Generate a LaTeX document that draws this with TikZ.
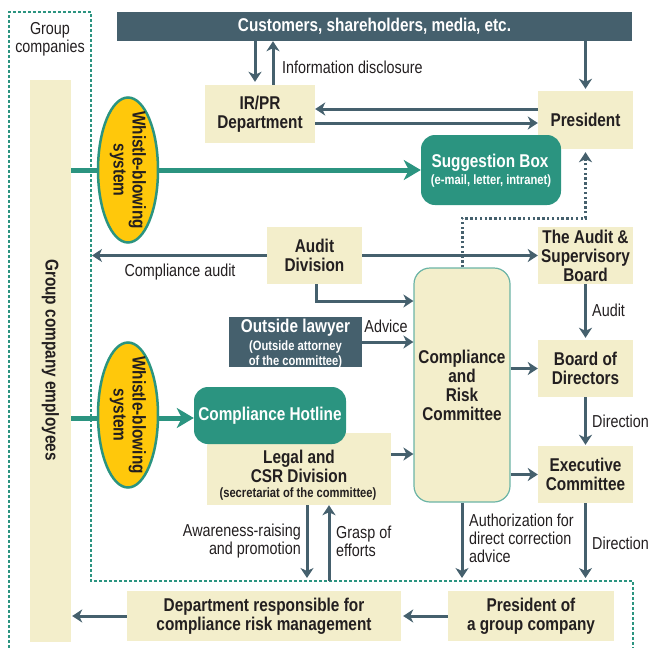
\documentclass[tikz,border=0pt]{standalone}
\usepackage{fontspec}
\setmainfont{Liberation Sans}[FakeStretch=0.83]
\usetikzlibrary{arrows.meta,shapes.geometric}
\definecolor{cSlate}{HTML}{45606D}
\definecolor{cCream}{HTML}{F3EECB}
\definecolor{cTeal}{HTML}{2B9480}
\definecolor{cYel}{HTML}{FFC80B}
\definecolor{cTxt}{HTML}{231F20}
\newcommand\fntB{\fontsize{18.5}{19}\selectfont\bfseries}
\newcommand\fntR{\fontsize{17.3}{18}\selectfont}
\newcommand\fntS{\fontsize{13.5}{15}\selectfont\bfseries}
\begin{document}
\begin{tikzpicture}[x=1pt,y=-1pt,
  box/.style={fill=cCream, text=cTxt, font=\fntB, align=center, inner sep=0pt},
  darkbox/.style={fill=cSlate, text=white, font=\fntB, align=center, inner sep=0pt},
  tbox/.style={fill=cTeal, text=white, font=\fntB, align=center, inner sep=0pt, rounded corners=14pt},
  wtxt/.style={text=white, font=\fntB, align=center, inner sep=0pt},
  btxt/.style={text=cTxt, font=\fntB, align=center, inner sep=0pt},
  lab/.style={text=cTxt, font=\fntR, inner sep=0pt},
  wbell/.style={ellipse, fill=cYel, draw=cTeal, line width=2.5pt, minimum width=60pt, minimum height=145pt, inner sep=0pt},
  wbtxt/.style={text=cTxt, font=\fntB, align=center, inner sep=0pt, rotate=-90},
  arr/.style={draw=cSlate, line width=3pt, -{Stealth[length=10pt,width=13pt,inset=3pt]}},
  tarr/.style={draw=cTeal, line width=5pt, -{Stealth[length=17pt,width=20pt,inset=5pt]}},
  darr/.style={draw=cSlate, line width=3pt, dash pattern=on 2.4pt off 2.4pt, -{Stealth[length=10pt,width=13pt,inset=3pt]}},
  gline/.style={draw=cTeal, line width=1.1pt, dash pattern=on 3pt off 2pt}
]
\useasboundingbox (0,0) rectangle (651,648);

% group companies outline
\draw[gline] (9,648) -- (9,12) -- (91,12) -- (91,581) -- (633,581) -- (633,648);
\node[lab, align=center] (gc) at (50,39) {Group\\companies};

% boxes
\node[darkbox, minimum width=515pt, minimum height=29pt] (cust) at (374.5,26.5) {Customers, shareholders, media, etc.};
\node[box, minimum width=110pt, minimum height=58pt] (irpr) at (260,114) {IR/PR\\Department};
\node[box, minimum width=95pt, minimum height=58pt] (pres) at (585.5,120) {President};
\node[tbox, minimum width=140pt, minimum height=70pt] (sugg) at (491,170) {};
\node[wtxt] (suggt1) at (490,163) {Suggestion Box};
\node[wtxt, font=\fntS] (suggt2) at (491,181) {(e-mail, letter, intranet)};
\node[box, minimum width=41pt, minimum height=562pt] (emp) at (50.5,361) {};
\node[wbtxt] (empt) at (50.5,360) {Group company employees};
\node[box, minimum width=95pt, minimum height=57pt] (audit) at (314.5,255.5) {Audit\\Division};
\node[box, minimum width=95pt, minimum height=57pt] (asb) at (585.5,255.5) {The Audit \&\\Supervisory\\Board};
\node[box, minimum width=95pt, minimum height=57pt] (bod) at (585.5,368.5) {Board of\\Directors};
\node[box, minimum width=95pt, minimum height=57pt] (exec) at (585.5,474.5) {Executive\\Committee};
\node[box, draw=cTeal!70, line width=1.2pt, rounded corners=16pt, minimum width=96pt, minimum height=234pt] (crc) at (462,385) {Compliance\\and\\Risk\\Committee};
\node[darkbox, minimum width=133pt, minimum height=50pt] (law) at (295.5,342) {};
\node[wtxt] (lawt1) at (295.5,328) {Outside lawyer};
\node[wtxt, font=\fntS] (lawt2) at (295.5,355) {(Outside attorney\\of the committee)};
\node[box, minimum width=184pt, minimum height=72pt] (legal) at (299,469) {};
\node[tbox, minimum width=152pt, minimum height=57pt] (hot) at (270,415.5) {Compliance Hotline};
\node[btxt] (legalt1) at (299,466.5) {Legal and\\CSR Division};
\node[btxt, font=\fntS] (legalt2) at (298,494) {(secretariat of the committee)};
\node[box, minimum width=274pt, minimum height=50pt] (dept) at (264,616) {Department responsible for\\compliance risk management};
\node[box, minimum width=166pt, minimum height=50pt] (pgc) at (531,616) {President of\\a group company};

% teal whistle-blowing lines
\draw[tarr] (emp.east |- sugg.west) -- (sugg.west);
\draw[tarr] ([yshift=-2.5pt]emp.east |- hot.west) -- ([yshift=-2.5pt]hot.west);
\node[wbell] (wb1) at (128,170) {};
\node[wbtxt] (wb1t) at (128,170) {Whistle-blowing\\system};
\node[wbell] (wb2) at (128,415) {};
\node[wbtxt] (wb2t) at (128,415) {Whistle-blowing\\system};

% top connectors
\draw[arr, shorten >=3pt] ([xshift=-5pt]irpr.north |- cust.south) -- ([xshift=-5pt]irpr.north);
\draw[arr] ([xshift=13pt]irpr.north) -- ([xshift=13pt]irpr.north |- cust.south);
\node[lab, anchor=west] (info) at (282,67) {Information disclosure};
\draw[arr, shorten >=2pt] (cust.south -| pres.north) -- (pres.north);
\draw[arr] ([yshift=11pt]pres.west) -- ([yshift=11pt]pres.west -| irpr.east);
\draw[arr] ([yshift=-9pt]irpr.east) -- ([yshift=-9pt]irpr.east -| pres.west);

% dotted report line
\coordinate (dotc) at (462,218);
\draw[darr, shorten >=3pt] (crc.north) -- (crc.north |- dotc) -| (pres.south);

% audit division
\coordinate (gcl) at (92,255);
\draw[arr] (audit.west) -- (gcl |- audit.west);
\draw[arr] (audit.east) -- (asb.west);
\node[lab] (ca) at (180,272) {Compliance audit};
\draw[arr] ([xshift=1.5pt]audit.south) |- ([yshift=84pt]crc.west);

% outside lawyer
\draw[arr] (law.east) -- (law.east -| crc.west);
\node[lab] (adv) at (386,326) {Advice};

% right column
\draw[arr, shorten >=2pt] (asb.south) -- (bod.north);
\node[lab, anchor=west] (audl) at (592,310) {Audit};
\draw[arr, shorten >=1pt] (bod.south) -- (exec.north);
\node[lab, anchor=west] (dir1) at (592,421) {Direction};
\coordinate (dir2e) at (585.5,580);
\draw[arr, shorten >=2pt] (exec.south) -- (dir2e);
\node[lab, anchor=west] (dir2) at (592,543) {Direction};
\draw[arr] (crc.east |- bod.west) -- (bod.west);
\draw[arr] (crc.east |- exec.west) -- (exec.west);

% legal division
\draw[arr] ([yshift=15pt]legal.east) -- ([yshift=15pt]legal.east -| crc.west);
\coordinate (awe) at (307,580);
\draw[arr, shorten >=2pt] ([xshift=8pt]legal.south) -- (awe);
\coordinate (grs) at (329,581);
\draw[arr] (grs) -- (grs |- legal.south);
\node[lab, anchor=east, align=right] (awl) at (301,541) {Awareness-raising\\and promotion};
\node[lab, anchor=west, align=left] (grl) at (336,541) {Grasp of\\efforts};
\coordinate (aue) at (462,580);
\draw[arr, shorten >=2pt] (crc.south) -- (aue);
\node[lab, anchor=west, align=left] (authl) at (469,538) {Authorization for\\direct correction\\advice};

% bottom
\draw[arr, shorten >=2pt] (pgc.west) -- (dept.east);
\draw[arr, shorten >=1pt] (dept.west) -- (dept.west -| emp.east);
\end{tikzpicture}
\end{document}
